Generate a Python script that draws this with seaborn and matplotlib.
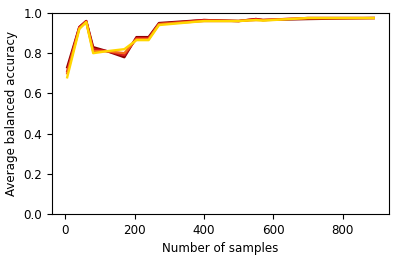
import pandas as pd
import matplotlib
matplotlib.use("Agg")
import matplotlib.pyplot as plt
import seaborn as sns

# data
n_samples = [5, 40, 60, 80, 120, 170, 205, 240, 270, 400, 500, 550, 570, 700, 890]
acc_a = [0.73, 0.93, 0.96, 0.83, 0.81, 0.78, 0.88, 0.88, 0.95, 0.965, 0.96, 0.97, 0.965, 0.97, 0.975]
acc_b = [0.71, 0.93, 0.96, 0.82, 0.81, 0.79, 0.875, 0.875, 0.945, 0.965, 0.96, 0.97, 0.965, 0.975, 0.975]
acc_c = [0.70, 0.925, 0.955, 0.81, 0.81, 0.80, 0.87, 0.87, 0.945, 0.96, 0.96, 0.965, 0.965, 0.975, 0.975]
acc_d = [0.68, 0.92, 0.955, 0.80, 0.81, 0.82, 0.865, 0.865, 0.94, 0.96, 0.96, 0.965, 0.962, 0.975, 0.975]
runs = ["a", "b", "c", "d"]
colors = ["#8b0000", "#d7191c", "#f46d1a", "#ffd700"]

frames = []
for name, vals in zip(runs, [acc_a, acc_b, acc_c, acc_d]):
    frames.append(pd.DataFrame({"n": n_samples, "acc": vals, "run": name}))
df = pd.concat(frames, ignore_index=True)

fig = plt.figure(figsize=(3.99, 2.6), dpi=100)
ax = fig.add_axes([0.130, 0.177, 0.845, 0.773])

sns.lineplot(data=df, x="n", y="acc", hue="run", palette=colors,
             linewidth=1.7, legend=False, ax=ax)

ax.set_ylim(0, 1.0)
ax.set_yticks([0.0, 0.2, 0.4, 0.6, 0.8, 1.0])
ax.set_xticks([0, 200, 400, 600, 800])
ax.set_xlabel("Number of samples", fontsize=8.6)
ax.set_ylabel("Average balanced accuracy", fontsize=8.6)
ax.tick_params(labelsize=8.6)

plt.savefig("out.png", dpi=100)
